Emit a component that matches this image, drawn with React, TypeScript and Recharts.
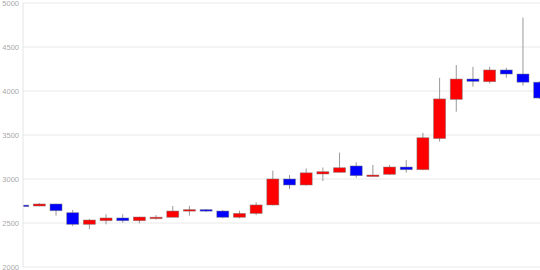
import React from 'react';
import { ComposedChart, Bar, XAxis, YAxis, CartesianGrid } from 'recharts';

const days = [0, 1, 2, 3, 4, 5, 6, 7, 8, 9, 10, 11, 12, 13, 14, 15, 16, 17, 18, 19, 20, 21, 22, 23, 24, 25, 26, 27, 28, 29, 30, 31];
const opens = [2703, 2693, 2716, 2617, 2485, 2526, 2557, 2526, 2563, 2565, 2640, 2652, 2636, 2565, 2609, 2705, 3000, 2932, 3057, 3076, 3148, 3038, 3053, 3136, 3106, 3460, 3905, 4136, 4106, 4239, 4193, 4100];
const closes = [2700, 2716, 2640, 2485, 2534, 2557, 2526, 2568, 2566, 2636, 2652, 2640, 2565, 2609, 2705, 3000, 2932, 3070, 3083, 3128, 3038, 3045, 3136, 3106, 3469, 3910, 4136, 4110, 4239, 4193, 4100, 3920];
const highs = [2704, 2727, 2720, 2648, 2545, 2600, 2600, 2570, 2590, 2693, 2693, 2660, 2648, 2640, 2735, 3095, 3045, 3120, 3130, 3300, 3190, 3160, 3160, 3215, 3525, 4150, 4295, 4275, 4275, 4265, 4835, 4110];
const lows = [2699, 2690, 2583, 2466, 2430, 2485, 2503, 2496, 2540, 2565, 2583, 2625, 2553, 2553, 2590, 2700, 2885, 2925, 2977, 3075, 3015, 3038, 3045, 3072, 3100, 3425, 3765, 4050, 4085, 4150, 4060, 3910];
const yTicks = [2000, 2500, 3000, 3500, 4000, 4500, 5000];

const data = days.map((d, i) => ({
  day: d,
  open: opens[i],
  close: closes[i],
  high: highs[i],
  low: lows[i],
}));

const Candle = (props: any) => {
  const { x, y, width, height, payload } = props;
  if (!payload) return null;
  const top = Math.min(y, y + height);
  const h = Math.abs(height);
  const { open, close, high, low } = payload;
  const k = h / (high - low);
  const py = (v: number) => top + (high - v) * k;
  const cx = x + width / 2;
  const up = close >= open;
  const bTop = py(Math.max(open, close));
  const bBot = py(Math.min(open, close));
  const bh = Math.max(bBot - bTop, 1.5);
  return (
    <g>
      <line x1={cx} x2={cx} y1={top} y2={top + h} stroke="#999" strokeWidth={1} />
      <rect
        x={x}
        y={bTop}
        width={width}
        height={bh}
        fill={up ? '#ff0000' : '#0000ff'}
        stroke="#777"
        strokeOpacity={0.6}
        strokeWidth={0.8}
      />
    </g>
  );
};

export default function App() {
  return (
    <div style={{ position: 'absolute', left: 0, top: 0, background: '#fff' }}>
      <ComposedChart
        width={540}
        height={270}
        data={data}
        margin={{ top: 3, right: 0, bottom: 3, left: 0 }}
      >
        <CartesianGrid vertical={false} stroke="#e8e8e8" />
        <XAxis
          dataKey="day"
          type="number"
          domain={[0, 31]}
          allowDataOverflow
          hide
        />
        <YAxis
          type="number"
          domain={[2000, 5000]}
          ticks={yTicks}
          width={23}
          tickLine={false}
          tickSize={0}
          tickMargin={4}
          axisLine={{ stroke: '#e4e4e4' }}
          tick={{ fontSize: 7.5, fill: '#aaa', fontFamily: 'Liberation Sans, Arial, sans-serif' }}
          interval={0}
        />
        <Bar
          dataKey={(d: any) => [d.low, d.high]}
          barSize={12}
          shape={<Candle />}
          isAnimationActive={false}
        />
      </ComposedChart>
    </div>
  );
}
